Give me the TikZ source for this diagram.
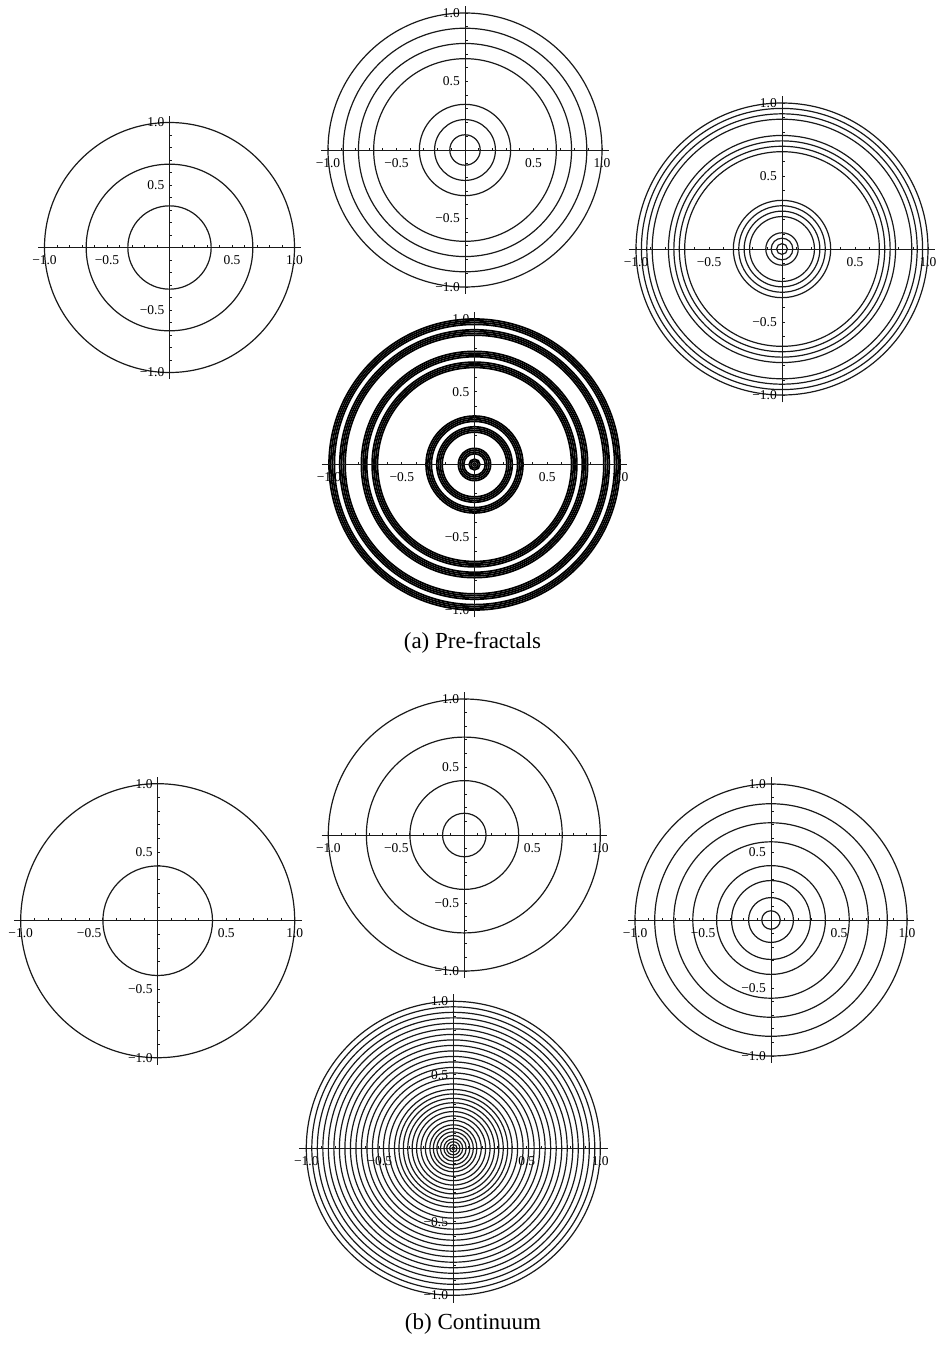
\documentclass[tikz,border=0pt]{standalone}
\usepackage{fontspec}
\setmainfont{Liberation Serif}
\usepackage{tikz}
\usetikzlibrary{calc}
\tikzset{ringw/.initial=1.2pt}
% #1 name, #2 x, #3 y, #4 radius of the unit circle, #5 ring radii
\newcommand\ringplot[6][]%
{\begin{scope}[shift={(#3,#4)}]
	\foreach \rr in {#6} \draw[ring,#1] (0,0) circle[radius={(\rr)*#5}];
	\draw[axis] (-1.05*#5,0) -- (1.05*#5,0);
	\draw[axis] (0,1.05*#5) -- (0,-1.05*#5);
	\foreach \t in {-10,...,-1,1,2,...,10}
	{\draw[axis] (\t*#5/10,0) -- ++(0,-2.5);
	 \draw[axis] (0,\t*#5/10) -- ++(2.5,0);}
	\foreach \v/\s/\k in {-1/−1.0/a,-0.5/−0.5/b,0.5/0.5/c,1/1.0/d}
	{\node[ticklab,anchor=north] (#2-x\k) at (\v*#5,7) {\s};
	 \node[ticklab,anchor=east] (#2-y\k) at (-4,-\v*#5) {\s};}
\end{scope}}

\begin{document}
\begin{tikzpicture}[x=1pt,y=-1pt]
		\tikzstyle{ring}=[line width=\pgfkeysvalueof{/tikz/ringw},draw=black!90]
		\tikzstyle{axis}=[line width=1pt,draw=black!90]
		\tikzstyle{ticklab}=[inner sep=1pt,font=\fontsize{13.5}{13.5}\selectfont,text=black]
		\tikzstyle{caption}=[inner sep=0pt,font=\fontsize{23}{23}\selectfont,text=black]
		\useasboundingbox (0,0) rectangle (937,1349);
		
		% (a) pre-fractals
		\ringplot{pf1}{169.5}{247.5}{125}{1,2/3,1/3}
		\ringplot{pf2}{465}{150}{137}{1,8/9,7/9,6/9,3/9,2/9,1/9}
		\ringplot{pf3}{782}{249}{146}{27/27,26/27,25/27,24/27,21/27,20/27,19/27,18/27,9/27,8/27,7/27,6/27,3/27,2/27,1/27}
		\ringplot[line width=1.7pt,draw=black]{pf4}{474.5}{464.5}{145.5}{81/81,80/81,79/81,78/81,75/81,74/81,73/81,72/81,63/81,62/81,61/81,60/81,57/81,56/81,55/81,54/81,27/81,26/81,25/81,24/81,21/81,20/81,19/81,18/81,9/81,8/81,7/81,6/81,3/81,2/81,1/81}
		\node[caption] (cap_a) at (472.5,643) {(a) Pre-fractals};
		
		% (b) continuum
		\ringplot{ct1}{157.7}{920.7}{137}{1,0.4}
		\ringplot{ct2}{464.3}{835}{136}{1,0.72,0.4,0.16}
		\ringplot{ct3}{771}{920}{136}{1,0.855,0.715,0.575,0.4,0.29,0.165,0.068}
		\ringplot{ct4}{453.3}{1148.3}{147}{1}
		\begin{scope}[shift={(453.3,1148.3)}]
			\foreach \k/\n in {0/16,1/8,2/4,3/2,4/1}
			\foreach \j in {1,...,\n}
			\draw[ring] (0,0) circle[radius={0.4^\k*(1-0.6*\j/\n)*147}];
		\end{scope}
		\node[caption] (cap_b) at (473,1324) {(b) Continuum};
	\end{tikzpicture}
\end{document}
